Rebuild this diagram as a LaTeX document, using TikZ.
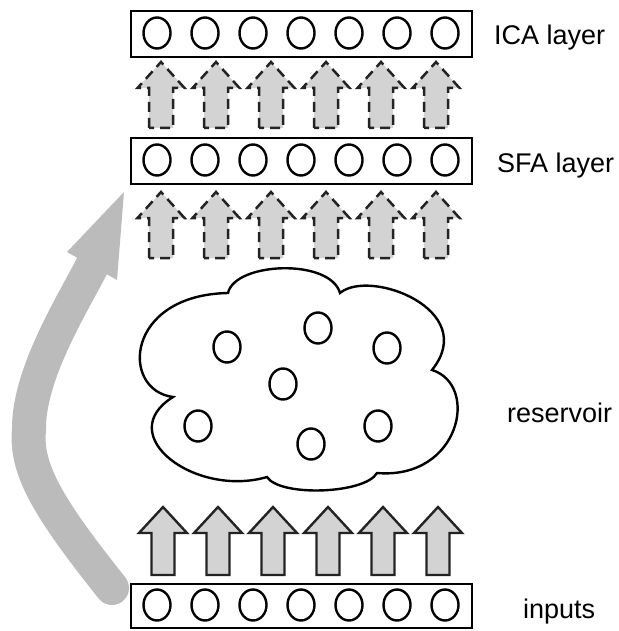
\documentclass[tikz,border=0pt]{standalone}
\usepackage{fontspec}
\setmainfont{Liberation Sans}
\usetikzlibrary{shapes.geometric}
\definecolor{arrowfill}{RGB}{211,211,211}
\definecolor{bigarrow}{RGB}{187,187,187}
\definecolor{edge}{RGB}{35,35,35}
\begin{document}
\begin{tikzpicture}[x=1pt,y=-1pt,
  layerbox/.style={draw=black,line width=2.4pt,rectangle,minimum width=340.6pt,minimum height=45.6pt,inner sep=0pt},
  unit/.style={draw=black,line width=2.4pt,ellipse,minimum width=27pt,minimum height=31pt,inner sep=0pt},
  label/.style={inner sep=0pt,anchor=base west,font=\fontsize{27}{30}\selectfont},
  dasharrow/.style={draw=edge,fill=arrowfill,line width=2.5pt,dash pattern=on 10pt off 6pt,line join=miter},
  solidarrow/.style={draw=edge,fill=arrowfill,line width=2.4pt,line join=miter},
  cloudline/.style={draw=black,line width=2.4pt}
]
\useasboundingbox (0,0) rectangle (618,631);

% big gray feed-through arrow (drawn first, behind)
\coordinate (gstart) at (112,588);
\coordinate (gbend) at (29,430);
\coordinate (gbase) at (92,266);
\coordinate (gtip) at (124,192);
\draw[bigarrow,line width=34pt,line cap=round]
  (gstart) .. controls (50,510) and (25,470) .. (gbend)
  .. controls (28,375) and (72,305) .. (gbase);
\fill[bigarrow] (67,252) -- (gtip) -- (117,280) -- cycle;

% layer boxes
\node[layerbox] (ica) at (301.5,34) {};
\node[layerbox] (sfa) at (301.5,161) {};
\node[layerbox,minimum height=43.6pt] (inp) at (301.5,606) {};

\foreach \i in {0,...,6}{
  \node[unit] (ica\i) at ({157+48*\i},33) {};
  \node[unit] (sfa\i) at ({157+48*\i},160) {};
  \node[unit] (inp\i) at ({157+48*\i},605) {};
}

% dashed arrows (ICA <- SFA, SFA <- reservoir)
\foreach \i in {0,...,5}{
  \pgfmathsetmacro{\cx}{161+55*\i}
  \draw[dasharrow] (\cx-12,128) -- (\cx-12,88) -- (\cx-23.5,88) -- (\cx,62) -- (\cx+23.5,88) -- (\cx+12,88) -- (\cx+12,128) -- cycle;
  \draw[dasharrow] (\cx-12,258) -- (\cx-12,218) -- (\cx-23.5,218) -- (\cx,192) -- (\cx+23.5,218) -- (\cx+12,218) -- (\cx+12,258) -- cycle;
}
% solid arrows (inputs -> reservoir)
\foreach \i in {0,...,5}{
  \pgfmathsetmacro{\cx}{163+55*\i}
  \draw[solidarrow] (\cx-11.5,575) -- (\cx-11.5,533) -- (\cx-24,533) -- (\cx,507) -- (\cx+24,533) -- (\cx+11.5,533) -- (\cx+11.5,575) -- cycle;
}

% reservoir cloud
\coordinate (cA) at (173,397);
\coordinate (cB) at (228,293);
\coordinate (cC) at (340,293);
\coordinate (cD) at (432,370);
\coordinate (cE) at (377,473);
\coordinate (cF) at (267,477);
\draw[cloudline,fill=white] (cA) .. controls (120,390) and (125,295) .. (cB)
  .. controls (235,262) and (330,258) .. (cC)
  .. controls (370,268) and (480,310) .. (cD)
  .. controls (480,385) and (460,480) .. (cE)
  .. controls (365,494) and (280,497) .. (cF)
  .. controls (195,498) and (112,435) .. cycle;

\node[unit] (r1) at (227,347) {};
\node[unit] (r2) at (318,328) {};
\node[unit] (r3) at (387,348) {};
\node[unit] (r4) at (283,384) {};
\node[unit] (r5) at (198,426) {};
\node[unit] (r6) at (311,444) {};
\node[unit] (r7) at (378,426) {};

% labels
\node[label] (tica) at (494,45) {ICA layer};
\node[label] (tsfa) at (497,172) {SFA layer};
\node[label] (tres) at (507,422) {reservoir};
\node[label] (tinp) at (523,618) {inputs};
\end{tikzpicture}
\end{document}
